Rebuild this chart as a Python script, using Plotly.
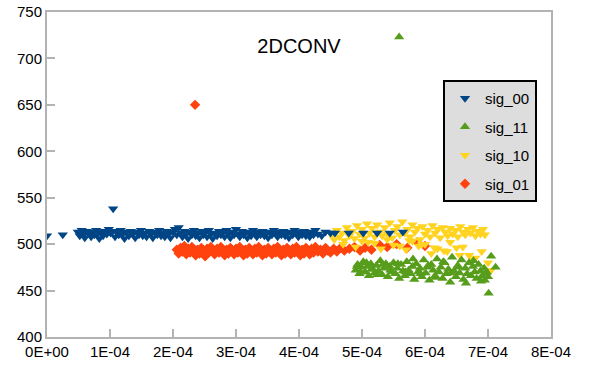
import plotly.graph_objects as go

X_UNIT = 1e-6  # x values below are in units of 1e-6

# sig_00 (blue, down triangles)
sig00_x = [0, 25, 49, 52, 55, 58, 60, 63, 66, 70, 72, 75, 78, 80, 83, 86, 89, 92, 95, 98, 101, 104, 105,
           108, 111, 114, 117, 120, 123, 126, 130, 133, 136, 140, 143, 146, 149, 152, 155, 158, 162, 165,
           168, 171, 175, 178, 181, 184, 187, 190, 193, 196, 200, 203, 206, 209, 212, 215, 218, 221, 224,
           227, 230, 233, 236, 239, 242, 245, 248, 251, 254, 257, 260, 263, 266, 270, 273, 276, 279, 282,
           285, 288, 291, 294, 297, 300, 303, 306, 309, 312, 315, 318, 321, 324, 327, 330, 333, 336, 339,
           342, 345, 348, 351, 354, 357, 360, 363, 366, 369, 372, 375, 378, 381, 384, 387, 390, 393, 396,
           399, 402, 405, 408, 411, 414, 417, 420, 423, 426, 430, 436, 442, 450, 457, 479, 502, 524, 544, 565]
sig00_y = [509, 510, 513, 509, 515, 511, 507, 514, 512, 508, 513, 510, 515, 511, 506, 513, 509, 514, 511, 516, 512, 514, 538,
           508, 513, 510, 515, 511, 506, 513, 509, 514, 511, 507, 513, 510, 515, 509, 512, 508, 514, 511,
           507, 513, 510, 515, 509, 512, 508, 514, 511, 507, 513, 516, 510, 518, 512, 508, 514, 511, 506,
           513, 510, 515, 509, 512, 507, 514, 510, 513, 508, 515, 511, 506, 512, 509, 514, 510, 513, 508,
           515, 511, 507, 513, 510, 516, 511, 508, 514, 510, 513, 507, 512, 509, 515, 511, 508, 513, 510,
           514, 509, 512, 507, 513, 510, 515, 511, 508, 513, 510, 514, 509, 512, 507, 513, 510, 515, 511,
           508, 513, 510, 514, 509, 512, 508, 513, 510, 515, 511, 509, 513, 512, 512, 512, 512, 512, 512, 513]

# sig_01 (orange, diamonds)
sig01_x = [206, 209, 212, 215, 218, 221, 224, 227, 230, 233, 235, 236, 239, 242, 245, 248, 251, 254, 257, 260,
           263, 266, 270, 273, 276, 279, 282, 285, 288, 291, 294, 297, 300, 303, 306, 309, 312, 315, 318,
           321, 324, 327, 330, 333, 336, 339, 342, 345, 348, 351, 354, 357, 360, 363, 366, 369, 372, 375,
           378, 381, 384, 387, 390, 393, 396, 399, 402, 405, 408, 411, 414, 417, 420, 423, 426, 430, 434,
           438, 442, 446, 450, 455, 460, 466, 472, 480, 488, 497, 505, 515, 528, 540, 555, 572, 588, 600]
sig01_y = [494, 490, 496, 492, 498, 489, 495, 491, 497, 493, 650, 488, 494, 490, 496, 492, 487, 495, 491, 497,
           493, 489, 495, 491, 497, 492, 488, 494, 490, 496, 493, 489, 495, 491, 497, 492, 488, 494, 490,
           496, 493, 489, 495, 491, 497, 492, 488, 494, 490, 496, 493, 489, 495, 491, 497, 492, 488, 494,
           490, 496, 493, 489, 495, 491, 497, 492, 488, 494, 490, 496, 493, 489, 495, 491, 497, 492, 494,
           490, 496, 493, 491, 495, 492, 496, 493, 495, 497, 493, 496, 494, 499, 497, 500, 496, 502, 498]

# sig_10 (yellow, down triangles)
sig10_x = [452, 456, 460, 464, 468, 472, 476, 480, 484, 488, 492, 496, 500, 504, 508, 512, 516, 520, 524, 528,
           532, 536, 540, 544, 548, 552, 556, 560, 564, 568, 572, 576, 580, 584, 588, 592, 596, 600, 604,
           608, 612, 616, 620, 624, 628, 632, 636, 640, 644, 648, 652, 656, 660, 664, 668, 672, 676, 680,
           684, 688, 692, 695, 470, 490, 510, 530, 550, 570, 590, 610, 630, 650, 670, 690, 500, 520, 540,
           560, 580, 600, 620, 640, 660, 680, 575, 595, 615, 635, 655, 675, 700, 705]
sig10_y = [510, 505, 515, 508, 512, 504, 518, 509, 514, 506, 520, 511, 516, 507, 522, 512, 517, 508, 521, 513,
           509, 518, 511, 523, 507, 515, 519, 510, 524, 512, 516, 508, 521, 513, 517, 505, 519, 511, 515,
           508, 520, 512, 516, 507, 518, 513, 509, 517, 511, 515, 508, 519, 513, 510, 516, 512, 518, 509,
           514, 511, 516, 510, 500, 497, 502, 495, 499, 494, 498, 490, 493, 496, 488, 492, 503, 501, 505,
           498, 503, 500, 495, 502, 497, 485, 504, 500, 496, 492, 488, 483, 480, 472]

# sig_11 (green, up triangles)
sig11_x = [490, 493, 496, 499, 502, 505, 508, 511, 514, 517, 520, 523, 526, 529, 532, 535, 538, 541, 544, 547,
           550, 553, 556, 559, 562, 565, 568, 571, 574, 577, 580, 583, 586, 589, 592, 595, 598, 601, 604,
           607, 610, 613, 616, 619, 622, 625, 628, 631, 634, 637, 640, 643, 646, 649, 652, 655, 658, 661,
           664, 667, 670, 673, 676, 679, 682, 685, 688, 691, 694, 697, 700, 492, 498, 507, 515, 524, 533,
           545, 557, 569, 581, 593, 605, 617, 629, 641, 653, 665, 677, 689, 698, 559, 701, 712, 705, 695]
sig11_y = [472, 478, 468, 475, 481, 470, 476, 466, 479, 473, 469, 477, 471, 482, 467, 474, 479, 465, 476, 470,
           480, 468, 474, 463, 478, 471, 466, 481, 472, 468, 476, 462, 479, 470, 474, 465, 483, 469, 475,
           461, 478, 472, 466, 484, 470, 475, 463, 480, 468, 473, 459, 486, 471, 465, 477, 469, 483, 462,
           474, 468, 480, 466, 476, 470, 463, 478, 471, 466, 474, 469, 465, 476, 470, 480, 473, 467, 478,
           472, 479, 470, 484, 468, 477, 464, 481, 469, 475, 458, 482, 460, 470, 723, 447, 475, 487, 461]

# axis ticks
x_tickvals = [0, 1e-4, 2e-4, 3e-4, 4e-4, 5e-4, 6e-4, 7e-4, 8e-4]
x_ticktext = ["0E+00", "1E-04", "2E-04", "3E-04", "4E-04", "5E-04", "6E-04", "7E-04", "8E-04"]
y_tickvals = [400, 450, 500, 550, 600, 650, 700, 750]

# (name, x, y, color, symbol, size, legend rank)
series = [
    ("sig_01", sig01_x, sig01_y, "#ff420e", "diamond", 8, 4),
    ("sig_10", sig10_x, sig10_y, "#ffd320", "triangle-down", 9, 3),
    ("sig_11", sig11_x, sig11_y, "#579d1c", "triangle-up", 9, 2),
    ("sig_00", sig00_x, sig00_y, "#004586", "triangle-down", 9, 1),
]

fig = go.Figure()
for name, xs, ys, color, symbol, size, rank in series:
    fig.add_trace(go.Scatter(
        x=[v * X_UNIT for v in xs], y=ys, mode="markers", name=name,
        legendgroup=name, legendrank=rank,
        marker=dict(color=color, symbol=symbol, size=size, line=dict(width=0)),
    ))

axis_common = dict(showline=True, linecolor="#b3b3b3", linewidth=2, mirror=True,
                   showgrid=False, zeroline=False, ticks="inside", ticklen=8,
                   tickcolor="#b3b3b3", tickwidth=2, automargin=False,
                   tickfont=dict(family="Liberation Sans", size=15, color="#000000"))

fig.update_layout(
    width=597, height=367,
    margin=dict(l=47, r=46, t=12, b=30, autoexpand=False),
    paper_bgcolor="white", plot_bgcolor="white",
    font=dict(family="Liberation Sans", color="#000000"),
    title=dict(text="2DCONV", x=0.5, xref="paper", xanchor="center",
               y=1 - 46 / 367, yanchor="middle", yref="container",
               font=dict(family="Liberation Sans", size=20, color="#000000")),
    xaxis=dict(range=[0, 8e-4], tickvals=x_tickvals, ticktext=x_ticktext, **axis_common),
    yaxis=dict(range=[400, 750], tickvals=y_tickvals, **axis_common),
    showlegend=True,
    legend=dict(x=(443 - 47) / 504, y=(337 - 80) / 325, xanchor="left", yanchor="top",
                bgcolor="#dddddd", bordercolor="#000000", borderwidth=2,
                traceorder="grouped", tracegroupgap=6, itemwidth=30,
                font=dict(family="Liberation Sans", size=15, color="#000000")),
)

fig.write_html("out.html", config={"displayModeBar": False},
               post_script="document.body.style.margin='0px';")
